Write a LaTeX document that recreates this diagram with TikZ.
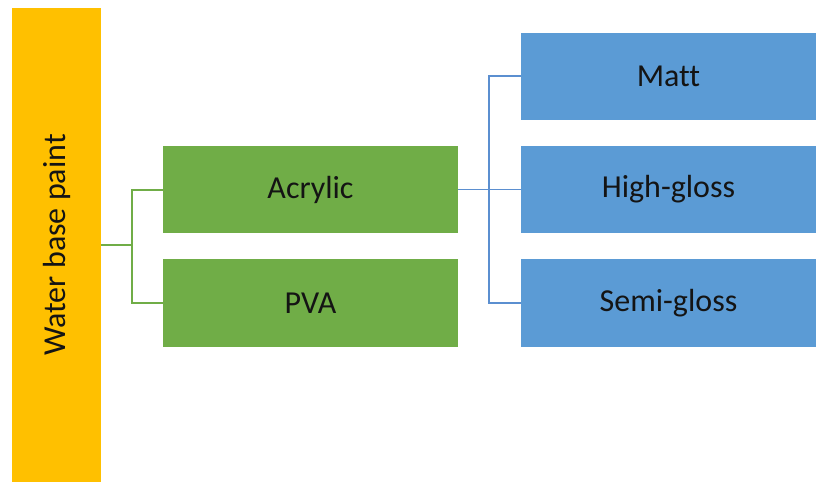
\documentclass[tikz,border=0pt]{standalone}
\usepackage{fontspec}
\setmainfont{Carlito}[Ligatures=NoCommon]
\definecolor{cyellow}{HTML}{FFC000}
\definecolor{cgreen}{HTML}{70AD47}
\definecolor{cblue}{HTML}{5B9BD5}
\definecolor{cline}{HTML}{5B8FD0}
\definecolor{ctext}{HTML}{141414}
\begin{document}
\begin{tikzpicture}[x=1pt,y=-1pt,
  box/.style={rectangle,inner sep=0pt,minimum width=295pt,minimum height=87pt,text=ctext,font=\fontsize{32}{38}\selectfont},
  gbox/.style={box,fill=cgreen},
  bbox/.style={box,fill=cblue},
  gline/.style={draw=cgreen,line width=2pt},
  bline/.style={draw=cline,line width=1.8pt}]
\useasboundingbox (0,0) rectangle (827,485);
\node[rectangle,inner sep=0pt,fill=cyellow,minimum width=89pt,minimum height=474pt,text=ctext,font=\fontsize{32}{38}\selectfont] (yb) at (56.5,245) {\rotatebox{90}{Water base paint}};
\node[gbox] (ac) at (310.5,189.5) {Acrylic};
\node[gbox,minimum height=88pt] (pva) at (310.5,303) {PVA};
\node[bbox] (mt) at (668.5,76) {Matt};
\node[bbox] (hg) at (668.5,189.5) {High-gloss};
\node[bbox,minimum height=88pt] (sg) at (668.5,303) {Semi-gloss};
\coordinate (gj) at (132,245);
\coordinate (bj) at (489,189.5);
\draw[gline] (yb.east) -- (gj);
\draw[gline] (ac.west) -| (gj) |- (pva.west);
\draw[bline] (ac.east) -- (hg.west);
\draw[bline] (mt.west) -| (bj) |- (sg.west);
\end{tikzpicture}
\end{document}
